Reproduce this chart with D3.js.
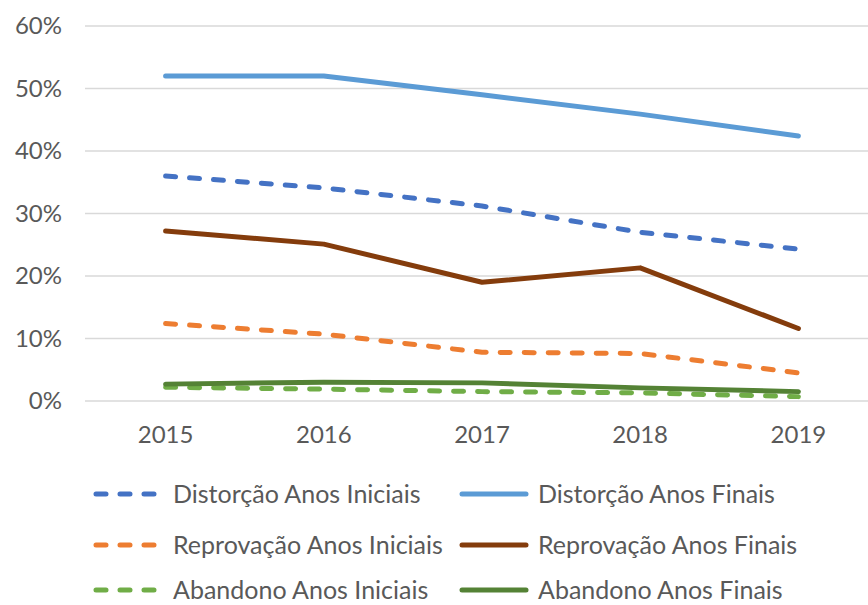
<!DOCTYPE html>
<html><head><meta charset="utf-8">
<script src="https://cdn.jsdelivr.net/npm/d3@7"></script>
<style>body{margin:0;background:#fff}svg{display:block}</style>
</head><body><svg id="c" width="868" height="605"></svg>
<script>
const years = ["2015","2016","2017","2018","2019"];
const yTicks = [0,10,20,30,40,50,60];
const distorcaoIniciais = [36.0, 34.1, 31.2, 27.0, 24.3];
const distorcaoFinais = [52.0, 52.0, 49.0, 45.9, 42.4];
const reprovacaoIniciais = [12.4, 10.7, 7.8, 7.6, 4.5];
const reprovacaoFinais = [27.2, 25.1, 19.0, 21.3, 11.6];
const abandonoIniciais = [2.2, 1.9, 1.5, 1.3, 0.7];
const abandonoFinais = [2.7, 3.0, 2.9, 2.1, 1.5];
const seriesNames = ["Distorção Anos Iniciais","Distorção Anos Finais","Reprovação Anos Iniciais","Reprovação Anos Finais","Abandono Anos Iniciais","Abandono Anos Finais"];
const seriesColors = ["#4472C4","#5B9BD5","#ED7D31","#843C0C","#70AD47","#548235"];
const seriesDashed = [true,false,true,false,true,false];
const seriesValues = [distorcaoIniciais,distorcaoFinais,reprovacaoIniciais,reprovacaoFinais,abandonoIniciais,abandonoFinais];

const svg = d3.select("#c");
const font = "Lato, 'Noto Sans', sans-serif";
const x = d3.scaleBand().domain(years).range([86.5, 877.5]);
const y = d3.scaleLinear().domain([0,60]).range([401,26]);

// gridlines
svg.append("g").selectAll("line").data(yTicks).join("line")
  .attr("x1",85).attr("x2",868).attr("y1",d=>y(d)).attr("y2",d=>y(d))
  .attr("stroke","#d9d9d9").attr("stroke-width",1.5);

// y axis labels
const yAxis = d3.axisLeft(y).tickValues(yTicks).tickFormat(d=>d+"%").tickSize(0).tickPadding(0);
const gy = svg.append("g").attr("transform","translate(62,0)").call(yAxis);
gy.select(".domain").remove();
gy.selectAll("text").attr("font-family",font).attr("font-size",24).attr("fill","#595959");

// x axis labels
const xAxis = d3.axisBottom(x).tickSize(0).tickPadding(0);
const gx = svg.append("g").attr("transform","translate(0,426)").call(xAxis);
gx.select(".domain").remove();
gx.selectAll("text").attr("font-family",font).attr("font-size",24).attr("fill","#595959");

const line = d3.line().x((d,i)=>x(years[i])+x.bandwidth()/2).y(d=>y(d));
seriesValues.forEach((vals,k)=>{
  svg.append("path").datum(vals).attr("d",line)
    .attr("fill","none").attr("stroke",seriesColors[k]).attr("stroke-width",5)
    .attr("stroke-linecap","round").attr("stroke-linejoin","round")
    .attr("stroke-dasharray",seriesDashed[k]?"10,14":null);
});

// legend
const legX = [96, 462], legTextX = [173, 538], legY = [494, 545, 590];
seriesNames.forEach((name,k)=>{
  const col = k%2, row = Math.floor(k/2);
  const g = svg.append("g");
  g.append("line").attr("x1",legX[col]).attr("x2",legX[col]+64)
    .attr("y1",legY[row]).attr("y2",legY[row])
    .attr("stroke",seriesColors[k]).attr("stroke-width",5)
    .attr("stroke-linecap","round")
    .attr("stroke-dasharray",seriesDashed[k]?"10,14":null);
  g.append("text").attr("x",legTextX[col]).attr("y",legY[row]).attr("dy","0.35em")
    .attr("font-family",font).attr("font-size",25).attr("fill","#595959").text(name);
});
</script></body></html>
